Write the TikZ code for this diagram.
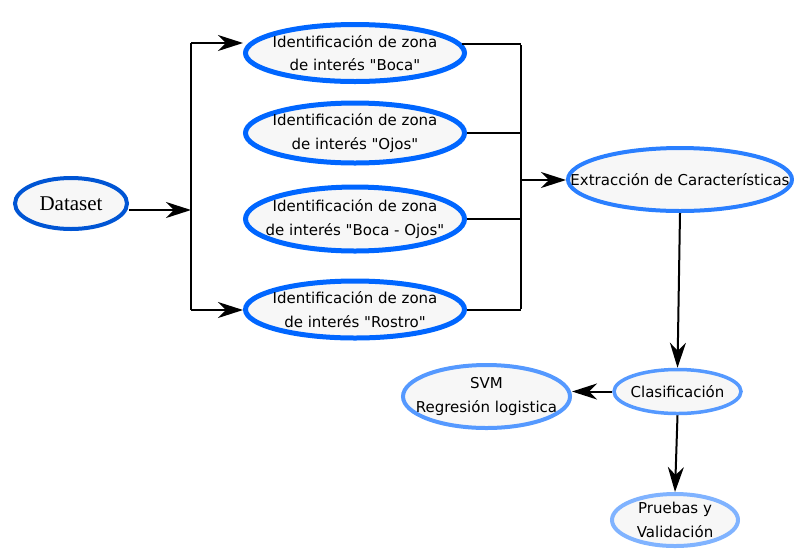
\documentclass[tikz,border=0pt]{standalone}
\usepackage{fontspec}
\setmainfont{DejaVu Sans}[Ligatures=TeXOff]
\newfontfamily\serifds{Liberation Serif}
\usetikzlibrary{shapes.geometric,arrows.meta}
\definecolor{cA}{HTML}{0055D4}
\definecolor{cB}{HTML}{0066FF}
\definecolor{cC}{HTML}{2A7FFF}
\definecolor{cD}{HTML}{5599FF}
\definecolor{cE}{HTML}{80B3FF}
\definecolor{bgf}{HTML}{F7F7F7}
\tikzset{
  ell/.style={ellipse, draw, fill=bgf, inner sep=0pt},
  txt/.style={inner sep=0pt, align=center, font=\fontsize{15}{23.5}\selectfont},
  conn/.style={line width=2pt, black},
  arr/.style={conn, -{Stealth[length=25pt,width=16pt,inset=8pt]}},
}
\begin{document}
\begin{tikzpicture}[x=1pt,y=-1pt]
\useasboundingbox (0,0) rectangle (794,550);
% nodes
\node[ell, draw=cA, line width=4pt, minimum width=112pt, minimum height=51pt] (ds) at (71,203.5) {};
\node[inner sep=0pt, font=\serifds\fontsize{21}{24}\selectfont] (dst) at (ds) {Dataset};

\node[ell, draw=cB, line width=5pt, minimum width=219pt, minimum height=57pt] (boca) at (355,53) {};
\node[txt] (bocat) at (boca) {Identificación de zona\\de interés "Boca"};
\node[ell, draw=cB, line width=5pt, minimum width=219pt, minimum height=60pt] (ojos) at (355,133) {};
\node[txt] (ojost) at (ojos) {Identificación de zona\\de interés "Ojos"};
\node[ell, draw=cB, line width=5pt, minimum width=219pt, minimum height=64pt] (bo) at (355,219) {};
\node[txt] (bot) at (bo) {Identificación de zona\\de interés "Boca - Ojos"};
\node[ell, draw=cB, line width=5pt, minimum width=219pt, minimum height=57pt] (ros) at (355,309.5) {};
\node[txt] (rost) at (ros) {Identificación de zona\\de interés "Rostro"};

\node[ell, draw=cC, line width=4pt, minimum width=224pt, minimum height=63pt] (ext) at (680,179.5) {};
\node[txt] (extt) at (ext) {Extracción de Características};

\node[ell, draw=cD, line width=3.5pt, minimum width=127pt, minimum height=44pt] (clas) at (677.5,391.5) {};
\node[txt] (clast) at (clas) {Clasificación};

\node[ell, draw=cD, line width=4pt, minimum width=167pt, minimum height=63pt] (svm) at (486.5,396.5) {};
\node[txt] (svmt) at (svm) {SVM\\Regresión logistica};

\node[ell, draw=cE, line width=4pt, minimum width=126pt, minimum height=52pt] (pru) at (675,520) {};
\node[txt] (prut) at (pru) {Pruebas y\\Validación};

% coordinates
\coordinate (tl) at (191,43);
\coordinate (bl) at (191,310);
\coordinate (ml) at (191,210);
\coordinate (tr) at (521,44);
\coordinate (br) at (521,310);
\coordinate (mr) at (521,180);

% connectors
\draw[arr] (ds.east |- ml) -- (ml);
\draw[conn] (tl) -- (bl);
\draw[arr] (tl) -- (tl -| boca.west);
\draw[arr] (bl) -- (bl -| ros.west);

\draw[conn] (boca.5) -- (boca.5 -| tr);
\draw[conn] (ojos.east) -- (ojos.east -| tr);
\draw[conn] (bo.east) -- (bo.east -| tr);
\draw[conn] (ros.east) -- (ros.east -| tr);
\draw[conn] ([yshift=-1pt]tr) -- ([yshift=1pt]br);
\draw[arr] (mr) -- (mr -| ext.west);

\draw[arr] (ext.south) -- (clas.north);
\draw[arr] (clas.west) -- (clas.west -| svm.east);
\draw[arr] (clas.south) -- (pru.north);
\end{tikzpicture}
\end{document}
